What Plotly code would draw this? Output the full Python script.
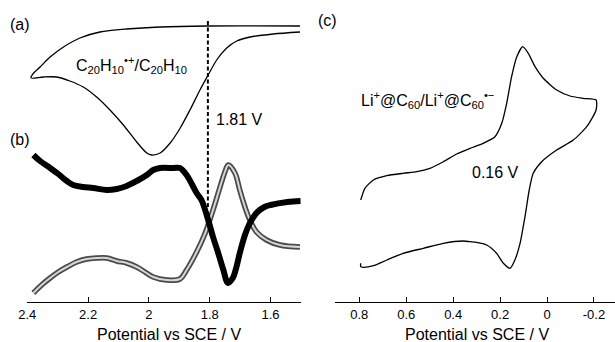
import plotly.graph_objects as go

# ---------------- data ----------------
# (a) CV of C20H10 (arbitrary current units): upper branch right->left, then lower branch left->right
a_potential = [1.503, 1.809, 1.963, 2.073, 2.161, 2.227, 2.281, 2.325, 2.358, 2.379, 2.388,
               2.347, 2.303, 2.260, 2.216, 2.172, 2.128, 2.084, 2.040, 2.007, 1.991, 1.963,
               1.930, 1.897, 1.865, 1.832, 1.805, 1.777, 1.744, 1.711, 1.667, 1.591, 1.503]
a_current = [0.0, 0.0, -0.1, -0.3, -0.6, -1.2, -2.1, -3.1, -4.1, -4.7, -5.2,
             -5.1, -5.1, -5.5, -6.1, -7.1, -8.4, -9.9, -11.6, -12.7, -12.9, -12.7,
             -11.7, -10.2, -8.4, -6.4, -4.9, -3.4, -2.2, -1.5, -1.1, -0.8, -0.6]

# (b) filled-circle series
b1_potential = [2.380, 2.358, 2.325, 2.298, 2.270, 2.249, 2.216, 2.183, 2.139, 2.106, 2.073,
                2.040, 2.007, 1.986, 1.963, 1.920, 1.898, 1.876, 1.843, 1.827, 1.805, 1.789,
                1.772, 1.755, 1.740, 1.724, 1.712, 1.701, 1.684, 1.671, 1.656, 1.643, 1.620,
                1.600, 1.545, 1.501]
b1_signal = [14.5, 13.9, 13.2, 12.6, 11.9, 11.5, 11.3, 11.2, 11.0, 11.1, 11.4,
             11.9, 12.5, 13.0, 13.2, 13.2, 13.2, 12.5, 10.7, 10.0, 8.0, 6.3,
             4.7, 3.0, 1.7, 2.2, 3.3, 4.7, 6.5, 7.5, 8.3, 8.8, 9.3,
             9.5, 9.8, 9.9]
# (b) open-circle series
b2_potential = [2.380, 2.353, 2.325, 2.298, 2.270, 2.238, 2.205, 2.172, 2.139, 2.106, 2.073,
                2.040, 2.013, 1.986, 1.941, 1.898, 1.876, 1.843, 1.816, 1.789, 1.767, 1.750,
                1.739, 1.717, 1.701, 1.684, 1.668, 1.646, 1.613, 1.569, 1.503]
b2_signal = [0.7, 1.5, 2.2, 2.8, 3.3, 3.8, 4.1, 4.2, 4.2, 3.9, 3.7,
             3.3, 2.8, 2.3, 2.0, 2.1, 3.0, 4.8, 6.6, 9.0, 11.2, 12.8,
             13.5, 12.7, 11.0, 9.3, 8.0, 6.8, 6.0, 5.5, 5.3]

# (c) CV of Li+@C60
c_potential = [0.794, 0.776, 0.740, 0.683, 0.613, 0.555, 0.499, 0.442, 0.385, 0.328, 0.272,
               0.222, 0.193, 0.172, 0.151, 0.129, 0.104, 0.080, 0.051, 0.016, -0.041, -0.098,
               -0.154, -0.209, -0.209, -0.169, -0.112, -0.041, 0.023, 0.059, 0.076, 0.094,
               0.115, 0.137, 0.158, 0.186, 0.215, 0.257, 0.300, 0.328, 0.357, 0.442, 0.527,
               0.613, 0.683, 0.740, 0.783, 0.794, 0.794]
c_current = [0.0, 1.17, 2.0, 2.43, 2.67, 2.83, 3.17, 3.83, 4.6, 5.17, 5.67,
             6.33, 7.67, 9.67, 12.33, 14.33, 15.33, 14.67, 13.33, 12.17, 11.0, 10.4,
             10.17, 10.0, 9.0, 7.33, 6.0, 5.0, 3.83, 2.67, 1.0, -1.67,
             -4.33, -6.0, -6.83, -6.33, -5.33, -4.5, -4.23, -4.17, -4.1, -4.33, -4.83,
             -5.33, -6.0, -6.57, -6.73, -6.67, -6.33]

left_ticks = [2.4, 2.2, 2.0, 1.8, 1.6]
left_ticktext = ["2.4", "2.2", "2", "1.8", "1.6"]
right_ticks = [0.8, 0.6, 0.4, 0.2, 0.0, -0.2]
right_ticktext = ["0.8", "0.6", "0.4", "0.2", "0", "-0.2"]
e_half_a = 1.806
axis_title = "Potential vs SCE / V"

# ---------------- figure ----------------
W, H = 615, 342
MB = 40
PH = H - MB
FONT = "Liberation Sans, Arial, Helvetica, sans-serif"

def px(x):
    return x / W

def py(y):
    return (PH - y) / PH

fig = go.Figure()

fig.add_trace(go.Scatter(x=a_potential, y=a_current, mode="lines",
                         line=dict(color="black", width=1.3, shape="spline", smoothing=0.8),
                         xaxis="x", yaxis="y", showlegend=False))
fig.add_trace(go.Scatter(x=b2_potential, y=b2_signal, mode="lines",
                         line=dict(color="#4a4a4a", width=5.5, shape="spline", smoothing=1.0),
                         xaxis="x", yaxis="y2", showlegend=False))
fig.add_trace(go.Scatter(x=b2_potential, y=b2_signal, mode="lines",
                         line=dict(color="#d6d6d6", width=2, shape="spline", smoothing=1.0),
                         xaxis="x", yaxis="y2", showlegend=False))
fig.add_trace(go.Scatter(x=b1_potential, y=b1_signal, mode="lines",
                         line=dict(color="black", width=6, shape="spline", smoothing=1.0),
                         xaxis="x", yaxis="y2", showlegend=False))
fig.add_trace(go.Scatter(x=c_potential, y=c_current, mode="lines",
                         line=dict(color="black", width=1.3, shape="spline", smoothing=0.6),
                         xaxis="x2", yaxis="y3", showlegend=False))

xcommon = dict(showgrid=False, zeroline=False, showline=True, linecolor="black", linewidth=1,
               ticks="inside", ticklen=5, tickwidth=1, tickcolor="black", automargin=False,
               tickfont=dict(family=FONT, size=13, color="black"))
ycommon = dict(domain=[0, 1], visible=False, automargin=False, showgrid=False, zeroline=False)

fig.update_layout(
    template="none",
    width=W, height=H, autosize=False,
    margin=dict(l=0, r=0, t=0, b=MB, pad=0),
    paper_bgcolor="white", plot_bgcolor="white",
    font=dict(family=FONT, color="black"),
    xaxis=dict(domain=[px(27.3), px(300.9)], range=[2.4, 1.5], anchor="y",
               tickvals=left_ticks, ticktext=left_ticktext, **xcommon),
    yaxis=dict(range=[-27.6, 2.6], anchor="x", **ycommon),
    yaxis2=dict(range=[-0.2, 30], overlaying="y", anchor="x", **ycommon),
    xaxis2=dict(domain=[px(335), 1], range=[0.9035, -0.2895], anchor="y3",
                tickvals=right_ticks, ticktext=right_ticktext, **xcommon),
    yaxis3=dict(range=[-10.2, 20], anchor="x2", **ycommon),
    showlegend=False,
)

fig.add_shape(type="line", xref="x", yref="paper", x0=e_half_a, x1=e_half_a,
              y0=py(207), y1=py(21), line=dict(color="black", width=2, dash="4px,2.5px"))

ann_font = dict(family=FONT, size=16, color="black")
labels = [
    ("(a)", 20, 25),
    ("(b)", 20, 139),
    ("(c)", 327, 20),
    ("C<sub>20</sub>H<sub>10</sub><sup>•+</sup>/C<sub>20</sub>H<sub>10</sub>", 131, 65),
    ("1.81 V", 239, 119),
    ("Li<sup>+</sup>@C<sub>60</sub>/Li<sup>+</sup>@C<sub>60</sub><sup>•−</sup>", 427, 100),
    ("0.16 V", 495, 172),
    (axis_title, 169, 334),
    (axis_title, 477, 334),
]
for text, x, y in labels:
    fig.add_annotation(text=text, x=px(x), y=py(y), xref="paper", yref="paper",
                       xanchor="center", yanchor="middle", showarrow=False, font=ann_font)

fig.write_html("out.html")
